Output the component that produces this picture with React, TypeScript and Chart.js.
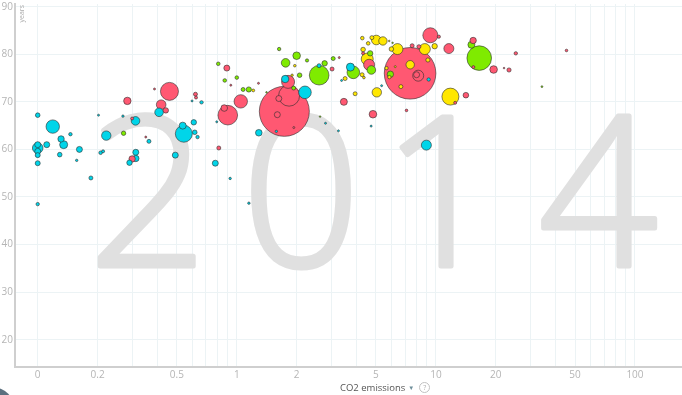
import React, { useEffect, useRef } from 'react';
import { Chart, registerables } from 'chart.js';

Chart.register(...registerables);

// ---- axis ticks ----
const xTickValues = [0.1, 0.2, 0.3, 0.4, 0.5, 0.6, 0.7, 0.8, 0.9, 1, 2, 3, 4, 5, 6, 7, 8, 9, 10, 20, 30, 40, 50, 60, 70, 80, 90, 100];
const xTickLabels: Record<string, string> = { '0.1': '0', '0.2': '0.2', '0.5': '0.5', '1': '1', '2': '2', '5': '5', '10': '10', '20': '20', '50': '50', '100': '100' };
const yTickValues = [20, 30, 40, 50, 60, 70, 80, 90];
const yearLabel = '2014';
const xTitle = 'CO2 emissions';
const yUnit = 'years';

// ---- Africa (cyan) ----
const africaCO2 = [0.1, 0.119, 0.146, 0.131, 0.135, 0.111, 0.1, 0.1, 0.1, 0.1, 0.1, 0.129, 0.162, 0.157, 0.185, 0.1, 0.221, 0.207, 0.213, 0.202, 0.268, 0.31, 0.311, 0.311, 0.289, 0.362, 0.407, 0.542, 0.535, 0.608, 0.615, 0.635, 0.491, 0.596, 0.665, 0.78, 0.793, 0.926, 1.29, 1.58, 1.75, 2.2, 2.59, 3.72, 8.96, 9.2, 1.15, 2.79, 3.24, 4.73, 3.36, 5.34];
const africaLife = [67.2, 64.8, 63.2, 62.2, 61.0, 61.0, 60.3, 61.0, 59.6, 58.8, 57.1, 58.9, 60.0, 57.7, 54.0, 48.5, 62.9, 59.3, 59.6, 67.2, 67.0, 66.0, 59.4, 58.1, 57.2, 61.7, 67.8, 63.3, 65.0, 65.7, 63.6, 62.6, 58.8, 70.2, 69.9, 57.1, 65.8, 53.9, 63.5, 63.8, 74.8, 72.0, 77.6, 77.3, 60.9, 74.7, 48.7, 65.5, 63.9, 64.9, 74.5, 73.4];
const africaSize = [2.3, 6.7, 1.7, 3.2, 4, 3, 5.3, 3, 3, 2.5, 2.5, 2.3, 3, 1.2, 2, 1.7, 4.7, 1.8, 1.5, 1, 1.2, 4.3, 3, 3.2, 2.7, 2, 4.3, 8.5, 3.5, 2.7, 2.3, 1.7, 3, 1, 1.7, 3, 1, 1.2, 3.3, 1.2, 3.7, 6.3, 2, 4, 5, 1.7, 1.2, 1, 1, 1, 1, 1];

// ---- Asia (red) ----
const asiaCO2 = [0.282, 0.298, 0.298, 0.349, 0.386, 0.459, 0.417, 0.44, 0.62, 0.624, 0.812, 0.891, 0.901, 0.865, 1.047, 0.933, 1.733, 1.81, 1.831, 1.626, 1.598, 1.934, 1.285, 3.01, 3.27, 3.45, 4.62, 4.31, 4.83, 7.12, 7.42, 8.15, 8.0, 7.6, 8.22, 9.38, 10.35, 11.62, 12.5, 14.15, 15.39, 15.43, 19.5, 22.0, 23.3, 25.2, 45.3];
const asiaLife = [70.2, 66.5, 58.0, 62.6, 72.7, 72.2, 69.4, 68.2, 71.6, 70.9, 60.3, 77.1, 67.2, 68.7, 70.1, 73.5, 68.0, 74.2, 71.3, 70.7, 67.3, 64.6, 73.9, 76.9, 79.3, 70.0, 77.8, 80.2, 67.4, 68.2, 76.0, 75.5, 75.7, 81.8, 81.6, 84.0, 83.7, 81.2, 69.8, 71.4, 82.9, 77.3, 76.8, 77.1, 76.7, 80.2, 80.8];
const asiaSize = [3.7, 1.5, 3.2, 1, 1, 9, 4.8, 2.7, 2, 1.5, 2, 3, 9.8, 3.3, 6.7, 1, 25, 6.5, 10.5, 3, 3, 1, 1, 2, 1, 3.5, 5.5, 1.5, 3.8, 1.3, 25.8, 5.5, 3, 2, 2, 7.5, 1.6, 5, 1.5, 2.8, 3.2, 1.5, 3.8, 0.8, 2.1, 1.7, 1.3];

// ---- Americas (green) ----
const americasCO2 = [0.27, 0.807, 0.87, 1.0, 1.076, 1.149, 1.632, 1.998, 1.759, 2.253, 2.068, 1.93, 2.762, 3.05, 2.592, 3.849, 4.676, 4.742, 5.907, 6.06, 15.08, 16.51, 34.1, 1.41, 2.62];
const americasLife = [63.4, 78.0, 74.5, 75.1, 72.6, 72.6, 81.1, 79.7, 78.2, 78.7, 75.6, 72.9, 78.1, 79.1, 75.6, 76.2, 80.2, 76.7, 75.8, 82.4, 82.0, 79.2, 73.2, 72.0, 66.9];
const americasSize = [2.2, 1.8, 1.8, 1.8, 2, 2.6, 1.7, 3.8, 4.3, 1.6, 2.3, 2, 2.7, 2, 9.8, 6.3, 2.7, 4.3, 3.2, 0.8, 3.5, 12.3, 0.9, 0.8, 0.8];

// ---- Europe (yellow) ----
const europeCO2 = [1.21, 1.956, 1.896, 3.5, 3.93, 4.27, 4.57, 4.77, 5.02, 5.42, 4.31, 4.52, 4.26, 4.35, 5.05, 5.98, 6.41, 8.8, 9.86, 9.12, 7.43, 5.84, 5.65, 6.25, 6.67, 11.83, 5.83];
const europeLife = [72.4, 77.6, 75.6, 74.9, 71.7, 83.4, 82.3, 83.5, 83.0, 82.8, 81.0, 79.0, 75.7, 75.1, 72.0, 81.1, 81.1, 81.1, 81.7, 78.8, 77.8, 75.2, 77.1, 77.4, 73.2, 71.1, 82.8];
const europeSize = [1.4, 1.3, 1.2, 2, 2, 1.8, 1.8, 2, 4.8, 4.2, 2.3, 6, 2, 1.3, 4.7, 2.3, 5.5, 5.5, 2.7, 2.1, 4.2, 1.7, 1.7, 1, 2, 8.5, 0.8];

const groups = [
  { xs: africaCO2, ys: africaLife, rs: africaSize, color: '#00d5e9' },
  { xs: asiaCO2, ys: asiaLife, rs: asiaSize, color: '#ff5872' },
  { xs: americasCO2, ys: americasLife, rs: americasSize, color: '#7feb00' },
  { xs: europeCO2, ys: europeLife, rs: europeSize, color: '#ffe700' },
];

const watermarkPlugin = {
  id: 'watermark',
  beforeDatasetsDraw(chart: any) {
    const { ctx, chartArea } = chart;
    ctx.save();
    ctx.fillStyle = '#e0e0e0';
    ctx.strokeStyle = '#e0e0e0';
    ctx.lineWidth = 5;
    ctx.lineJoin = 'round';
    ctx.lineCap = 'round';
    ctx.font = '300 208px "Open Sans"';
    ctx.textAlign = 'center';
    ctx.textBaseline = 'alphabetic';
    const centers = [148, 301, 441, 598];
    yearLabel.split('').forEach((d, i) => {
      ctx.fillText(d, centers[i], 266);
      ctx.strokeText(d, centers[i], 266);
    });
    // y unit label
    ctx.fillStyle = '#aaaaaa';
    ctx.font = '7px "Open Sans"';
    ctx.translate(chartArea.left + 7, chartArea.top + 1);
    ctx.rotate(-Math.PI / 2);
    ctx.textAlign = 'right';
    ctx.textBaseline = 'middle';
    ctx.fillText(yUnit, 0, 0);
    ctx.restore();
  },
};

export default function App() {
  const ref = useRef<HTMLCanvasElement>(null);
  useEffect(() => {
    const points = groups
      .flatMap((g) => g.xs.map((x, i) => ({ x, y: g.ys[i], r: g.rs[i], c: g.color })))
      .sort((a, b) => b.r - a.r);
    const chart = new Chart(ref.current as HTMLCanvasElement, {
      type: 'bubble',
      data: {
        datasets: [
          {
            data: points.map((p) => ({ x: p.x, y: p.y, r: p.r })),
            backgroundColor: points.map((p) => p.c),
            borderColor: 'rgba(45,45,45,0.75)',
            borderWidth: 0.8,
            hoverRadius: 0,
          } as any,
        ],
      },
      options: {
        animation: false,
        responsive: false,
        devicePixelRatio: 1,
        layout: { autoPadding: false, padding: { top: 4, left: 0, right: 0, bottom: 0 } },
        plugins: { legend: { display: false }, tooltip: { enabled: false } },
        scales: {
          x: {
            type: 'logarithmic',
            min: 0.0769,
            max: 172.3,
            bounds: 'data',
            afterBuildTicks: (scale: any) => {
              scale.ticks = xTickValues.map((value) => ({ value }));
            },
            afterFit: (scale: any) => {
              scale.height = 28;
              scale.paddingLeft = 0;
              scale.paddingRight = 0;
            },
            grid: { color: '#ecf3f5', drawTicks: false, lineWidth: 1 },
            border: { display: true, color: '#cfcfcf', width: 2 },
            ticks: {
              autoSkip: false,
              maxRotation: 0,
              padding: 2,
              color: '#b5b5b5',
              font: { size: 10, family: '"Open Sans"' },
              callback: (v: any) => xTickLabels[String(v)] ?? '',
            },
          },
          y: {
            type: 'linear',
            min: 14.26,
            max: 90.57,
            bounds: 'data',
            afterBuildTicks: (scale: any) => {
              scale.ticks = yTickValues.map((value) => ({ value }));
            },
            afterFit: (scale: any) => {
              scale.width = 15;
              scale.paddingTop = 0;
              scale.paddingBottom = 0;
            },
            grid: { color: '#ecf3f5', drawTicks: false, lineWidth: 1 },
            border: { display: true, color: '#cfcfcf', width: 2 },
            ticks: {
              padding: 2,
              color: '#b5b5b5',
              font: { size: 10, family: '"Open Sans"' },
            },
          },
        },
      },
      plugins: [watermarkPlugin],
    } as any);
    return () => chart.destroy();
  }, []);

  return (
    <div style={{ position: 'absolute', left: 0, top: 0, width: 682, height: 395, overflow: 'hidden', background: '#fff' }}>
      <canvas ref={ref} width={682} height={395} style={{ display: 'block' }} />
      <div
        style={{
          position: 'absolute',
          left: 340,
          top: 379,
          height: 16,
          display: 'flex',
          alignItems: 'center',
          fontFamily: '"Open Sans"',
          fontSize: 9.5,
          color: '#555',
          whiteSpace: 'nowrap',
        }}
      >
        <span>{xTitle}</span>
        <span style={{ fontSize: 6, color: '#6f8f9b', margin: '1px 5px 0 3px' }}>▼</span>
        <span
          style={{
            display: 'inline-block',
            width: 9,
            height: 9,
            border: '1px solid #c0c0c0',
            borderRadius: '50%',
            fontSize: 7,
            lineHeight: '9px',
            textAlign: 'center',
            color: '#b0b0b0',
          }}
        >
          ?
        </span>
      </div>
      <div
        style={{
          position: 'absolute',
          left: -31,
          top: 387,
          width: 46,
          height: 46,
          borderRadius: '50%',
          background: '#5b6f7e',
        }}
      />
    </div>
  );
}
